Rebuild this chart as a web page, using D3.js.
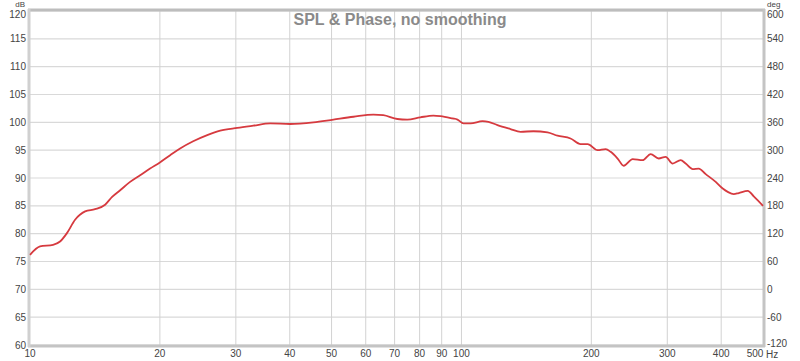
<!DOCTYPE html>
<html><head><meta charset="utf-8">
<script src="https://cdn.jsdelivr.net/npm/d3@7"></script>
<style>body{margin:0;background:#fff}svg{display:block}text{font-family:"Liberation Sans",Arial,sans-serif}</style>
</head><body><svg id="c" width="800" height="361"></svg>
<script>
const title = "SPL & Phase, no smoothing";
const freqTicks = [10,20,30,40,50,60,70,80,90,100,200,300,400,500];
const dbTicks = [60,65,70,75,80,85,90,95,100,105,110,115,120];
const degTicks = [-120,-60,0,60,120,180,240,300,360,420,480,540,600];
const freq = [10,10.55,11.31,11.74,12.18,12.72,13.42,14.15,14.93,15.5,16.18,17.06,18,18.98,20,21.13,22.28,23.89,25.75,27.6,30.22,32.92,36.05,40.1,45.4,50.5,56.2,62.5,65.9,71,74.9,80.3,86.1,89.4,95.3,97.9,101.1,105,111.9,115.5,121.2,129.9,137.1,146.9,158.3,167,179,188.9,196.1,206.8,215.9,221.7,230.1,237.7,249.4,263,274.5,286.5,297.4,308.7,322.2,330.9,343.6,354.8,368.3,388.5,403.3,414.2,427.7,439.3,460.9,476,500];
const spl = [76.2,77.7,78.0,78.6,80.1,82.5,84.0,84.4,85.2,86.6,87.8,89.3,90.5,91.7,92.8,94.1,95.3,96.6,97.7,98.5,99.0,99.4,99.8,99.7,100.0,100.5,101.0,101.4,101.3,100.6,100.5,100.9,101.2,101.1,100.7,100.5,99.8,99.8,100.2,100.1,99.5,98.8,98.3,98.4,98.2,97.6,97.1,96.1,96.1,95.0,95.2,94.7,93.5,92.2,93.4,93.2,94.3,93.5,93.8,92.6,93.2,92.6,91.6,91.7,90.7,89.3,88.1,87.5,87.1,87.3,87.7,86.7,85.0];

const svg = d3.select("#c");
const L=30, R=763, T=11, B=345;
const x = d3.scaleLog().domain([10,500]).range([L,R]);
const y = d3.scaleLinear().domain([60,120]).range([B,T]);
const y2 = d3.scaleLinear().domain([-120,600]).range([B,T]);

// grid
svg.append("g").selectAll("line").data(dbTicks).join("line")
  .attr("x1",L).attr("x2",R).attr("y1",d=>y(d)).attr("y2",d=>y(d))
  .attr("stroke","#d9d9d9").attr("stroke-width",1.2);
svg.append("g").selectAll("line").data(freqTicks.slice(1,-1)).join("line")
  .attr("y1",T).attr("y2",B).attr("x1",d=>x(d)).attr("x2",d=>x(d))
  .attr("stroke","#d2d2d2").attr("stroke-width",1);

// frame
svg.append("line").attr("x1",L-2).attr("x2",R+2).attr("y1",T-1).attr("y2",T-1).attr("stroke","#bdbdbd").attr("stroke-width",3);
svg.append("line").attr("x1",L-2).attr("x2",R+2).attr("y1",B+1).attr("y2",B+1).attr("stroke","#c4c4c4").attr("stroke-width",3);
svg.append("line").attr("x1",L-1).attr("x2",L-1).attr("y1",T-2).attr("y2",B+2).attr("stroke","#d0d0d0").attr("stroke-width",3);
svg.append("line").attr("x1",R+1).attr("x2",R+1).attr("y1",T-2).attr("y2",B+2).attr("stroke","#c4c4c4").attr("stroke-width",3);

// axes labels
svg.append("g").selectAll("text").data(dbTicks).join("text")
  .attr("x",26).attr("y",d=>y(d)+(d===120?7:3.5)).attr("text-anchor","end")
  .attr("font-size","10px").attr("fill","#444").text(d=>d);
svg.append("g").selectAll("text").data(degTicks).join("text")
  .attr("x",767).attr("y",d=>y2(d)+(d===600?7:d===-120?2:3.5)).attr("text-anchor","start")
  .attr("font-size","10px").attr("fill","#444").text(d=>d);
svg.append("g").selectAll("text").data(freqTicks).join("text")
  .attr("x",d=>d===500?x(d)-8:x(d)).attr("y",357).attr("text-anchor","middle")
  .attr("font-size","10px").attr("fill","#444").text(d=>d);
svg.append("text").attr("x",766).attr("y",358).attr("font-size","10px").attr("fill","#444").text("Hz");
svg.append("text").attr("x",25).attr("y",7).attr("text-anchor","end").attr("font-size","8px").attr("fill","#444").text("dB");
svg.append("text").attr("x",767).attr("y",7).attr("font-size","8px").attr("fill","#444").text("deg");

// title
svg.append("text").attr("x",400).attr("y",25).attr("text-anchor","middle")
  .attr("font-size","16px").attr("font-weight","bold").attr("fill","#8a8a8a").text(title);

// curve
const pts = freq.map((f,i)=>[f,spl[i]]);
svg.append("path").datum(pts)
  .attr("d", d3.line().x(d=>x(d[0])).y(d=>y(d[1])).curve(d3.curveMonotoneX))
  .attr("fill","none").attr("stroke","#d63a3f").attr("stroke-width",1.8);
</script></body></html>
